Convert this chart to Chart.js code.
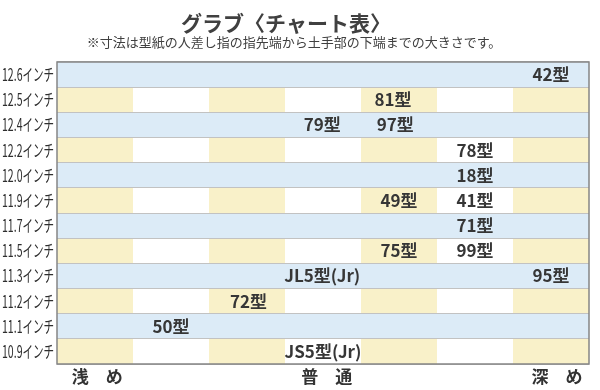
<!DOCTYPE html>
<html>
<head>
<meta charset="utf-8">
<script src="https://cdn.jsdelivr.net/npm/chart.js@4.4.0/dist/chart.umd.min.js"></script>
<style>
  body { margin: 0; background: #fff; }
  #wrap { width: 600px; height: 390px; }
</style>
</head>
<body>
<div id="wrap"><canvas id="chartgrab"></canvas></div>
<script>
// rows (top to bottom)
var sizes = ['12.6インチ', '12.5インチ', '12.4インチ', '12.2インチ', '12.0インチ', '11.9インチ',
             '11.7インチ', '11.5インチ', '11.3インチ', '11.2インチ', '11.1インチ', '10.9インチ'];
// models, their row and depth position (0 = shallow .. 7 = deep)
var models = ['42型', '81型', '79型', '97型', '78型', '18型', '49型', '41型',
              '71型', '75型', '99型', 'JL5型(Jr)', '95型', '72型', '50型', 'JS5型(Jr)'];
var modelSize = ['12.6インチ', '12.5インチ', '12.4インチ', '12.4インチ', '12.2インチ', '12.0インチ', '11.9インチ', '11.9インチ',
                 '11.7インチ', '11.5インチ', '11.5インチ', '11.3インチ', '11.3インチ', '11.2インチ', '11.1インチ', '10.9インチ'];
var modelDepth = [6.5, 4.42, 3.49, 4.45, 5.5, 5.5, 4.5, 5.5,
                  5.5, 4.5, 5.5, 3.49, 6.5, 2.52, 1.5, 3.5];
var depthTicks = [0.53, 3.55, 6.58];
var depthLabels = ['浅　め', '普　通', '深　め'];
var columns = 7;

var points = models.map(function (m, i) {
    return { x: modelDepth[i], y: modelSize[i] };
});

// background: blue rows, yellow / white columns on the others
var cellBg = {
    id: 'cellBg',
    beforeDraw: function (chart) {
        var ctx = chart.ctx, a = chart.chartArea;
        var xs = chart.scales.x, ys = chart.scales.y;
        var band = (a.bottom - a.top) / sizes.length;
        ctx.save();
        for (var r = 0; r < sizes.length; r++) {
            var yc = ys.getPixelForValue(r);
            var top = yc - band / 2;
            if (r % 2 == 0) {
                ctx.fillStyle = '#dcebf7';
                ctx.fillRect(a.left, top, a.right - a.left, band);
            } else {
                for (var c = 0; c < columns; c++) {
                    var x0 = xs.getPixelForValue(c), x1 = xs.getPixelForValue(c + 1);
                    ctx.fillStyle = (c % 2 == 0) ? '#f9f1c9' : '#ffffff';
                    ctx.fillRect(x0, top, x1 - x0, band);
                }
            }
        }
        ctx.restore();
    },
    afterDraw: function (chart) {
        var ctx = chart.ctx, a = chart.chartArea, ys = chart.scales.y;
        ctx.save();
        ctx.strokeStyle = '#858585';
        ctx.lineWidth = 1.5;
        ctx.strokeRect(a.left, a.top, a.right - a.left, a.bottom - a.top);
        // row labels, narrow like the printed ones
        ctx.fillStyle = '#2e2e2e';
        ctx.textAlign = 'left';
        ctx.textBaseline = 'middle';
        ctx.font = '17px "Noto Sans CJK JP"';
        ys.ticks.forEach(function (t, i) {
            var y = ys.getPixelForTick(i);
            ctx.save();
            ctx.translate(2, y);
            ctx.scale(0.62, 1);
            ctx.fillText(ys.getLabelForValue(t.value), 0, 0);
            ctx.restore();
        });
        // title
        ctx.fillStyle = '#404040';
        ctx.textAlign = 'center';
        ctx.font = 'bold 21px "Noto Sans CJK JP"';
        ctx.fillText('グラブ〈チャート表〉', 286, 23);
        ctx.font = '13px "Noto Sans CJK JP"';
        ctx.fillText('※寸法は型紙の人差し指の指先端から土手部の下端までの大きさです。', 294, 42);
        ctx.restore();
    }
};

// model names at their points
var cellText = {
    id: 'cellText',
    afterDatasetsDraw: function (chart) {
        var ctx = chart.ctx;
        var meta = chart.getDatasetMeta(0);
        ctx.save();
        ctx.fillStyle = '#363636';
        ctx.textAlign = 'center';
        ctx.textBaseline = 'middle';
        ctx.font = 'bold 17px "Noto Sans CJK JP"';
        meta.data.forEach(function (pt, i) {
            ctx.fillText(models[i], pt.x, pt.y);
        });
        ctx.restore();
    }
};

var ctx = document.getElementById('chartgrab').getContext('2d');
var chart = new Chart(ctx, {
    type: 'scatter',
    data: {
        datasets: [{
            label: 'グラブ',
            data: points,
            pointRadius: 0,
            pointHoverRadius: 0
        }]
    },
    options: {
        responsive: true,
        maintainAspectRatio: false,
        animation: false,
        layout: { padding: { left: 2, right: 11, top: 62, bottom: 0 } },
        plugins: {
            legend: { display: false },
            tooltip: { enabled: false }
        },
        scales: {
            x: {
                type: 'linear',
                min: 0,
                max: columns,
                afterBuildTicks: function (axis) {
                    axis.ticks = depthTicks.map(function (v) { return { value: v }; });
                },
                afterFit: function (axis) { axis.height = 26; },
                grid: { display: false, drawTicks: false },
                border: { display: false },
                ticks: {
                    autoSkip: false,
                    maxRotation: 0,
                    padding: 2,
                    color: '#333333',
                    font: { family: '"Noto Sans CJK JP"', size: 17, weight: 'bold' },
                    callback: function (v, i) { return depthLabels[i]; }
                }
            },
            y: {
                type: 'category',
                labels: sizes,
                offset: true,
                afterFit: function (axis) { axis.width = 55; },
                grid: { offset: true, color: '#c2c2c2', lineWidth: 1, drawTicks: false },
                border: { display: false },
                ticks: { display: false }
            }
        }
    },
    plugins: [cellBg, cellText]
});
</script>
</body>
</html>
